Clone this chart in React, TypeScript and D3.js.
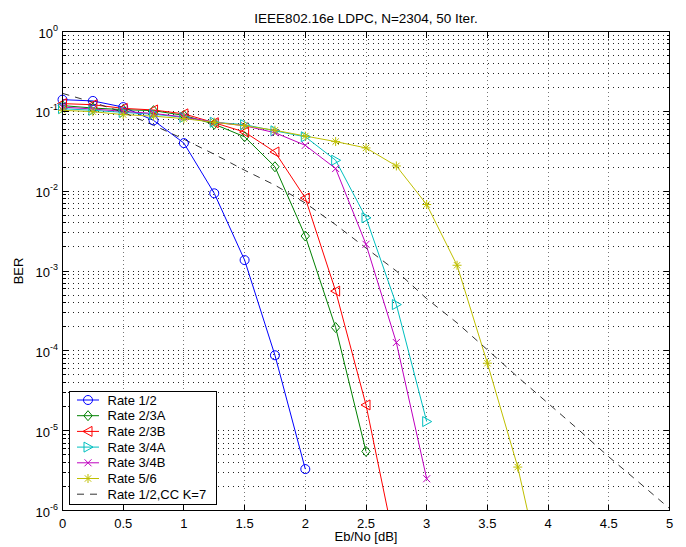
import React, { useEffect, useRef } from "react";
import * as d3 from "d3";

// Eb/No steps shared by all curves (each series uses the first N of them)
const ebNo = [0, 0.25, 0.5, 0.75, 1, 1.25, 1.5, 1.75, 2, 2.25, 2.5, 2.75, 3, 3.25, 3.5, 3.75, 4, 4.25, 4.5, 4.75, 5];

const rate12 = [0.14, 0.135, 0.113, 0.077, 0.04, 0.0094, 0.00137, 8.8e-5, 3.3e-6];
const rate23A = [0.118, 0.11, 0.105, 0.102, 0.089, 0.069, 0.048, 0.0202, 0.00274, 1.96e-4, 5.5e-6];
const rate23B = [0.125, 0.121, 0.109, 0.104, 0.093, 0.072, 0.055, 0.031, 0.0082, 5.6e-4, 2.1e-5, 3e-7];
const rate34A = [0.108, 0.103, 0.097, 0.092, 0.084, 0.073, 0.068, 0.057, 0.048, 0.0244, 0.00464, 3.8e-4, 1.3e-5];
const rate34B = [0.113, 0.107, 0.1, 0.094, 0.085, 0.073, 0.066, 0.054, 0.0375, 0.0192, 0.00216, 1.27e-4, 2.5e-6];
const rate56 = [0.103, 0.099, 0.091, 0.087, 0.081, 0.073, 0.066, 0.058, 0.049, 0.0418, 0.0348, 0.0207, 0.0068, 0.00118, 7e-5, 3.5e-6, 7e-8];
const ccK7 = [0.168, 0.13, 0.097, 0.067, 0.0447, 0.029, 0.0183, 0.0119, 0.0071, 0.0038, 0.00194, 0.001, 4.5e-4, 2.24e-4, 1.03e-4, 4.7e-5, 2.2e-5, 1.03e-5, 4.7e-6, 2.24e-6, 1.06e-6];

const seriesNames = ["Rate 1/2", "Rate 2/3A", "Rate 2/3B", "Rate 3/4A", "Rate 3/4B", "Rate 5/6", "Rate 1/2,CC K=7"];
const xTicks = [0, 0.5, 1, 1.5, 2, 2.5, 3, 3.5, 4, 4.5, 5];
const yDecades = [0, -1, -2, -3, -4, -5, -6];

const series = [
    { name: seriesNames[0], values: rate12, color: "#0000ff", marker: "o" },
    { name: seriesNames[1], values: rate23A, color: "#008000", marker: "d" },
    { name: seriesNames[2], values: rate23B, color: "#ff0000", marker: "<" },
    { name: seriesNames[3], values: rate34A, color: "#00bfbf", marker: ">" },
    { name: seriesNames[4], values: rate34B, color: "#bf00bf", marker: "x" },
    { name: seriesNames[5], values: rate56, color: "#bfbf00", marker: "*" },
    { name: seriesNames[6], values: ccK7, color: "#333333", marker: "", dash: "7,6" },
];

// MATLAB-like marker outlines, centred at 0,0
const markerPath = (m: string) => {
    switch (m) {
        case "o": return "M4.5,0A4.5,4.5 0 1,1 -4.5,0A4.5,4.5 0 1,1 4.5,0Z";
        case "d": return "M0,-5L4.2,0L0,5L-4.2,0Z";
        case "<": return "M-5,0L4,-5L4,5Z";
        case ">": return "M5,0L-4,-5L-4,5Z";
        case "x": return "M-3.5,-3.5L3.5,3.5M-3.5,3.5L3.5,-3.5";
        case "*": return "M-4.5,0L4.5,0M0,-4.5L0,4.5M-3.2,-3.2L3.2,3.2M-3.2,3.2L3.2,-3.2";
        default: return "";
    }
};

const W = 686, H = 547;
const left = 62.5, right = 669.5, top = 31.5, bottom = 510.5;
const font = "Liberation Sans, Arial, Helvetica, sans-serif";
const crisp = (v: number) => Math.round(v - 0.5) + 0.5;

const App = () => {
    const svgRef = useRef<SVGSVGElement | null>(null);

    useEffect(() => {
        const svg = d3.select(svgRef.current);
        svg.selectAll("*").remove();

        const x = d3.scaleLinear().domain([0, 5]).range([left, right]);
        const y = d3.scaleLog().domain([1e-6, 1]).range([bottom, top]);

        svg.append("rect").attr("width", W).attr("height", H).attr("fill", "#fff");

        svg.append("clipPath").attr("id", "plotclip")
            .append("rect").attr("x", left).attr("y", top)
            .attr("width", right - left).attr("height", bottom - top);

        // grid
        const grid = svg.append("g").attr("shape-rendering", "crispEdges");
        xTicks.slice(1, -1).forEach(t => {
            grid.append("line")
                .attr("x1", crisp(x(t))).attr("x2", crisp(x(t))).attr("y1", top).attr("y2", bottom)
                .attr("stroke", "#777").attr("stroke-dasharray", "1,3");
        });
        const minorY: number[] = [];
        yDecades.slice(0, -1).forEach(d => {
            for (let k = 1; k < 10; k++) minorY.push(k * Math.pow(10, d - 1));
        });
        minorY.forEach(v => {
            if (v >= 1 || v <= 1e-6) return;
            grid.append("line")
                .attr("x1", left).attr("x2", right).attr("y1", crisp(y(v))).attr("y2", crisp(y(v)))
                .attr("stroke", "#222").attr("stroke-dasharray", "1,4");
        });

        // series lines (clipped) and markers (only inside the y range)
        const plot = svg.append("g").attr("clip-path", "url(#plotclip)");
        const marks = svg.append("g");
        series.forEach(s => {
            const pts = s.values.map((v, i) => [ebNo[i], v] as [number, number]);
            const line = d3.line<[number, number]>().x(d => x(d[0])).y(d => y(d[1]));
            plot.append("path")
                .attr("d", line(pts))
                .attr("fill", "none")
                .attr("stroke", s.color)
                .attr("stroke-width", 1)
                .attr("stroke-dasharray", s.dash || null);
            if (s.marker) {
                marks.selectAll(null)
                    .data(pts.filter(d => d[1] >= 1e-6))
                    .enter()
                    .append("path")
                    .attr("transform", d => `translate(${x(d[0])},${y(d[1])})`)
                    .attr("d", markerPath(s.marker))
                    .attr("fill", "none")
                    .attr("stroke", s.color)
                    .attr("stroke-width", 1);
            }
        });

        // box and ticks
        const axes = svg.append("g").attr("stroke", "#000").attr("stroke-width", 1)
            .attr("shape-rendering", "crispEdges");
        axes.append("rect").attr("x", left).attr("y", top)
            .attr("width", right - left).attr("height", bottom - top).attr("fill", "none");
        xTicks.forEach(t => {
            const px = crisp(x(t));
            axes.append("line").attr("x1", px).attr("x2", px).attr("y1", bottom).attr("y2", bottom - 6);
            axes.append("line").attr("x1", px).attr("x2", px).attr("y1", top).attr("y2", top + 6);
        });
        yDecades.forEach(d => {
            const py = crisp(y(Math.pow(10, d)));
            axes.append("line").attr("x1", left).attr("x2", left + 6).attr("y1", py).attr("y2", py);
            axes.append("line").attr("x1", right).attr("x2", right - 6).attr("y1", py).attr("y2", py);
        });
        minorY.forEach(v => {
            if (v >= 1 || v <= 1e-6) return;
            const py = crisp(y(v));
            axes.append("line").attr("x1", left).attr("x2", left + 3).attr("y1", py).attr("y2", py);
            axes.append("line").attr("x1", right).attr("x2", right - 3).attr("y1", py).attr("y2", py);
        });

        // tick labels
        const labels = svg.append("g").style("font-family", font).attr("fill", "#000");
        xTicks.forEach(t => {
            labels.append("text")
                .attr("x", x(t)).attr("y", bottom + 17)
                .attr("text-anchor", "middle")
                .style("font-size", "13px")
                .text(String(t));
        });
        yDecades.forEach(d => {
            const tx = labels.append("text")
                .attr("x", 58).attr("y", y(Math.pow(10, d)) + 6)
                .attr("text-anchor", "end")
                .style("font-size", "13px");
            tx.append("tspan").text("10");
            tx.append("tspan").attr("dy", -7).style("font-size", "9px").text(d === 0 ? "0" : `-${-d}`);
        });

        // title and axis labels
        labels.append("text")
            .attr("x", (left + right) / 2).attr("y", 23)
            .attr("text-anchor", "middle")
            .style("font-size", "13.5px")
            .text("IEEE802.16e LDPC, N=2304, 50 Iter.");
        labels.append("text")
            .attr("x", (left + right) / 2).attr("y", 541)
            .attr("text-anchor", "middle")
            .style("font-size", "13px")
            .text("Eb/No [dB]");
        labels.append("text")
            .attr("transform", `translate(23, ${(top + bottom) / 2}) rotate(-90)`)
            .attr("text-anchor", "middle")
            .style("font-size", "13px")
            .text("BER");

        // legend
        const legend = svg.append("g");
        legend.append("rect")
            .attr("x", 69.5).attr("y", 391.5).attr("width", 146.5).attr("height", 112.5)
            .attr("fill", "#fff").attr("stroke", "#000").attr("shape-rendering", "crispEdges");
        series.forEach((s, i) => {
            const ly = 400 + i * 15.7;
            legend.append("line")
                .attr("x1", 77).attr("x2", 99).attr("y1", ly).attr("y2", ly)
                .attr("stroke", s.color)
                .attr("stroke-dasharray", s.dash || null);
            if (s.marker) {
                legend.append("path")
                    .attr("transform", `translate(88,${ly})`)
                    .attr("d", markerPath(s.marker))
                    .attr("fill", "none").attr("stroke", s.color);
            }
            legend.append("text")
                .attr("x", 107.5).attr("y", ly + 4.5)
                .style("font-family", font).style("font-size", "13px")
                .text(s.name);
        });
    }, []);

    return (
        <svg ref={svgRef} width={W} height={H} style={{ position: "absolute", left: 0, top: 0 }}></svg>
    );
};

export default App;
